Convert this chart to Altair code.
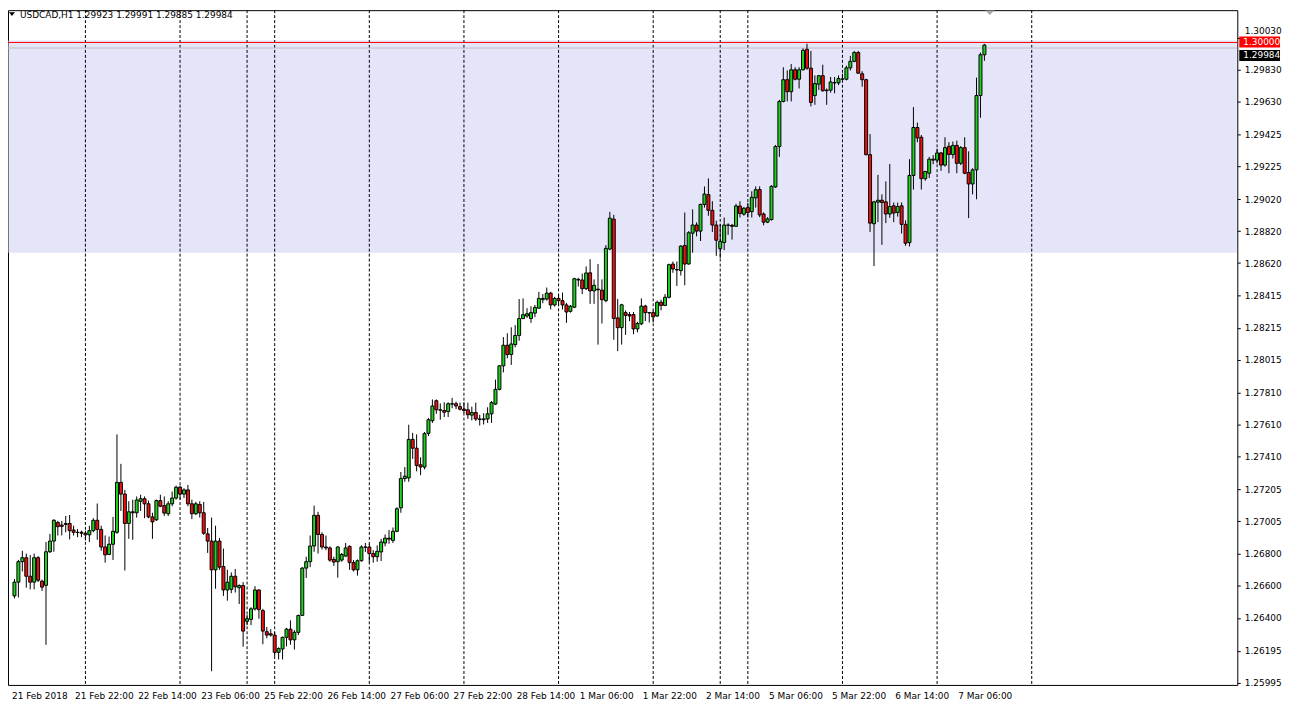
import json
import altair as alt
import pandas as pd

# ---------------- data (USDCAD, H1) ----------------
symbol = "USDCAD"
timeframe = "H1"

opens = [
    1.26538, 1.26624, 1.26752, 1.26777, 1.26661, 1.26624, 1.26777, 1.26630, 1.26604, 1.26814,
    1.26881, 1.26997, 1.26981, 1.26985, 1.26991, 1.26950, 1.26936, 1.26936, 1.26930, 1.26920,
    1.26946, 1.27011, 1.26954, 1.26844, 1.26797, 1.26861, 1.26936, 1.27248, 1.27175, 1.26991,
    1.27064, 1.27058, 1.27130, 1.27146, 1.27114, 1.27032, 1.27014, 1.27134, 1.27103, 1.27052,
    1.27114, 1.27150, 1.27218, 1.27175, 1.27201, 1.27114, 1.27052, 1.27110, 1.27058, 1.26926,
    1.26881, 1.26701, 1.26881, 1.26722, 1.26575, 1.26579, 1.26661, 1.26589, 1.26603, 1.26379,
    1.26391, 1.26457, 1.26575, 1.26446, 1.26314, 1.26301, 1.26293, 1.26185, 1.26206, 1.26279,
    1.26330, 1.26263, 1.26310, 1.26416, 1.26712, 1.26752, 1.26850, 1.27042, 1.26922, 1.26844,
    1.26838, 1.26766, 1.26752, 1.26762, 1.26787, 1.26848, 1.26746, 1.26701, 1.26758, 1.26844,
    1.26844, 1.26803, 1.26783, 1.26813, 1.26869, 1.26899, 1.26885, 1.26942, 1.27089, 1.27272,
    1.27276, 1.27517, 1.27462, 1.27358, 1.27344, 1.27555, 1.27634, 1.27759, 1.27702, 1.27698,
    1.27691, 1.27740, 1.27740, 1.27722, 1.27706, 1.27702, 1.27669, 1.27685, 1.27645, 1.27640,
    1.27645, 1.27677, 1.27738, 1.27830, 1.27977, 1.28106, 1.28048, 1.28110, 1.28167, 1.28273,
    1.28289, 1.28273, 1.28307, 1.28338, 1.28391, 1.28395, 1.28432, 1.28358, 1.28399, 1.28385,
    1.28358, 1.28318, 1.28344, 1.28514, 1.28514, 1.28460, 1.28559, 1.28446, 1.28457, 1.28451,
    1.28385, 1.28708, 1.28895, 1.28277, 1.28216, 1.28310, 1.28298, 1.28298, 1.28208, 1.28240,
    1.28351, 1.28310, 1.28310, 1.28289, 1.28375, 1.28355, 1.28406, 1.28614, 1.28579, 1.28573,
    1.28730, 1.28614, 1.28807, 1.28858, 1.28820, 1.28987, 1.29048, 1.28950, 1.28858, 1.28710,
    1.28748, 1.28858, 1.28856, 1.28850, 1.28977, 1.28926, 1.28967, 1.28942, 1.29028, 1.29080,
    1.28927, 1.28876, 1.28892, 1.29096, 1.29349, 1.29631, 1.29767, 1.29692, 1.29829, 1.29770,
    1.29829, 1.29957, 1.29839, 1.29668, 1.29739, 1.29792, 1.29702, 1.29702, 1.29747, 1.29747,
    1.29770, 1.29770, 1.29841, 1.29882, 1.29937, 1.29804, 1.29767, 1.29298, 1.28866, 1.29001,
    1.29013, 1.29003, 1.28927, 1.28978, 1.28937, 1.28978, 1.28862, 1.28748, 1.29168, 1.29468,
    1.29407, 1.29148, 1.29182, 1.29270, 1.29264, 1.29309, 1.29233, 1.29350, 1.29299, 1.29356,
    1.29244, 1.29342, 1.29186, 1.29115, 1.29203, 1.29668, 1.29923,
]
highs = [
    1.26644, 1.26763, 1.26820, 1.26803, 1.26793, 1.26803, 1.26787, 1.26640, 1.26875, 1.26926,
    1.27018, 1.27007, 1.27007, 1.27038, 1.27044, 1.26977, 1.26956, 1.26946, 1.26946, 1.26977,
    1.27024, 1.27116, 1.26977, 1.26916, 1.26909, 1.27032, 1.27548, 1.27364, 1.27201, 1.27130,
    1.27140, 1.27160, 1.27171, 1.27160, 1.27134, 1.27058, 1.27140, 1.27171, 1.27160, 1.27130,
    1.27191, 1.27228, 1.27228, 1.27211, 1.27232, 1.27140, 1.27126, 1.27130, 1.27126, 1.26963,
    1.27028, 1.26977, 1.26901, 1.26834, 1.26701, 1.26685, 1.26706, 1.26610, 1.26624, 1.26420,
    1.26467, 1.26599, 1.26579, 1.26457, 1.26344, 1.26330, 1.26314, 1.26216, 1.26283, 1.26338,
    1.26385, 1.26324, 1.26420, 1.26718, 1.26783, 1.26916, 1.27103, 1.27064, 1.26936, 1.26915,
    1.26848, 1.26783, 1.26848, 1.26807, 1.26869, 1.26854, 1.26762, 1.26766, 1.26854, 1.26869,
    1.26864, 1.26824, 1.26854, 1.26895, 1.26922, 1.26950, 1.26966, 1.27093, 1.27313, 1.27344,
    1.27609, 1.27558, 1.27548, 1.27405, 1.27563, 1.27651, 1.27767, 1.27767, 1.27742, 1.27749,
    1.27749, 1.27777, 1.27753, 1.27747, 1.27749, 1.27747, 1.27722, 1.27747, 1.27671, 1.27681,
    1.27718, 1.27757, 1.27891, 1.27983, 1.28157, 1.28181, 1.28218, 1.28232, 1.28395, 1.28399,
    1.28338, 1.28350, 1.28358, 1.28440, 1.28426, 1.28467, 1.28440, 1.28409, 1.28426, 1.28436,
    1.28371, 1.28358, 1.28528, 1.28528, 1.28554, 1.28599, 1.28644, 1.28518, 1.28614, 1.28518,
    1.28732, 1.28940, 1.28922, 1.28395, 1.28365, 1.28324, 1.28314, 1.28314, 1.28253, 1.28399,
    1.28359, 1.28314, 1.28324, 1.28385, 1.28391, 1.28426, 1.28616, 1.28630, 1.28630, 1.28732,
    1.28936, 1.28820, 1.28956, 1.28875, 1.28991, 1.29099, 1.29150, 1.29007, 1.28885, 1.28865,
    1.28905, 1.28869, 1.28865, 1.28991, 1.29007, 1.28971, 1.28997, 1.29069, 1.29099, 1.29100,
    1.28937, 1.28907, 1.29107, 1.29359, 1.29641, 1.29845, 1.29825, 1.29865, 1.29845, 1.29845,
    1.29963, 1.29992, 1.29947, 1.29794, 1.29794, 1.29861, 1.29712, 1.29784, 1.29784, 1.29794,
    1.29804, 1.29855, 1.29916, 1.29947, 1.29947, 1.29820, 1.29773, 1.29427, 1.29009, 1.29172,
    1.29050, 1.29131, 1.29240, 1.28999, 1.28999, 1.28999, 1.28887, 1.29270, 1.29596, 1.29499,
    1.29421, 1.29197, 1.29284, 1.29295, 1.29335, 1.29315, 1.29407, 1.29376, 1.29380, 1.29386,
    1.29352, 1.29407, 1.29319, 1.29213, 1.29780, 1.29937, 1.29991,
]
lows = [
    1.26522, 1.26528, 1.26691, 1.26589, 1.26579, 1.26579, 1.26624, 1.26569, 1.26232, 1.26807,
    1.26814, 1.26916, 1.26916, 1.26936, 1.26891, 1.26916, 1.26905, 1.26905, 1.26885, 1.26875,
    1.26936, 1.26889, 1.26820, 1.26746, 1.26793, 1.26763, 1.26926, 1.27069, 1.26697, 1.26895,
    1.26889, 1.27028, 1.27069, 1.27024, 1.27024, 1.26895, 1.27007, 1.27093, 1.27038, 1.27038,
    1.27099, 1.27140, 1.27140, 1.27150, 1.27099, 1.27018, 1.27044, 1.27028, 1.26920, 1.26807,
    1.26067, 1.26583, 1.26701, 1.26538, 1.26508, 1.26555, 1.26559, 1.26487, 1.26220, 1.26355,
    1.26355, 1.26446, 1.26395, 1.26236, 1.26273, 1.26283, 1.26161, 1.26140, 1.26140, 1.26222,
    1.26232, 1.26202, 1.26293, 1.26412, 1.26650, 1.26718, 1.26814, 1.26803, 1.26828, 1.26824,
    1.26752, 1.26726, 1.26652, 1.26752, 1.26783, 1.26701, 1.26691, 1.26665, 1.26752, 1.26813,
    1.26746, 1.26746, 1.26752, 1.26756, 1.26848, 1.26864, 1.26869, 1.26936, 1.27058, 1.27252,
    1.27252, 1.27395, 1.27317, 1.27293, 1.27330, 1.27538, 1.27620, 1.27677, 1.27640, 1.27657,
    1.27657, 1.27712, 1.27706, 1.27698, 1.27681, 1.27645, 1.27636, 1.27632, 1.27604, 1.27610,
    1.27620, 1.27620, 1.27732, 1.27824, 1.27936, 1.28024, 1.27983, 1.28093, 1.28134, 1.28269,
    1.28277, 1.28246, 1.28281, 1.28334, 1.28369, 1.28385, 1.28330, 1.28348, 1.28350, 1.28330,
    1.28246, 1.28310, 1.28338, 1.28473, 1.28426, 1.28452, 1.28365, 1.28365, 1.28110, 1.28242,
    1.28375, 1.28701, 1.28140, 1.28069, 1.28110, 1.28171, 1.28257, 1.28175, 1.28187, 1.28232,
    1.28257, 1.28248, 1.28248, 1.28283, 1.28324, 1.28351, 1.28399, 1.28559, 1.28477, 1.28542,
    1.28481, 1.28610, 1.28685, 1.28787, 1.28758, 1.28967, 1.28916, 1.28814, 1.28665, 1.28650,
    1.28701, 1.28797, 1.28767, 1.28848, 1.28905, 1.28916, 1.28905, 1.28905, 1.28967, 1.28907,
    1.28856, 1.28870, 1.28886, 1.29090, 1.29284, 1.29625, 1.29631, 1.29631, 1.29763, 1.29712,
    1.29825, 1.29829, 1.29600, 1.29610, 1.29702, 1.29692, 1.29610, 1.29686, 1.29682, 1.29733,
    1.29763, 1.29763, 1.29825, 1.29876, 1.29804, 1.29723, 1.29294, 1.28815, 1.28601, 1.28876,
    1.28734, 1.28870, 1.28903, 1.28876, 1.28911, 1.28805, 1.28728, 1.28724, 1.29080, 1.29376,
    1.29080, 1.29135, 1.29152, 1.29238, 1.29244, 1.29197, 1.29223, 1.29182, 1.29274, 1.29182,
    1.29233, 1.29176, 1.28901, 1.29050, 1.29019, 1.29529, 1.29885,
]
closes = [
    1.26624, 1.26752, 1.26777, 1.26661, 1.26624, 1.26777, 1.26636, 1.26593, 1.26814, 1.26881,
    1.27011, 1.26971, 1.26973, 1.26991, 1.26946, 1.26936, 1.26934, 1.26930, 1.26920, 1.26946,
    1.27011, 1.26954, 1.26844, 1.26795, 1.26861, 1.26942, 1.27248, 1.27175, 1.26991, 1.27064,
    1.27058, 1.27138, 1.27146, 1.27114, 1.27032, 1.27001, 1.27134, 1.27099, 1.27056, 1.27114,
    1.27150, 1.27218, 1.27175, 1.27201, 1.27114, 1.27052, 1.27114, 1.27058, 1.26930, 1.26881,
    1.26701, 1.26881, 1.26718, 1.26575, 1.26624, 1.26661, 1.26595, 1.26603, 1.26318, 1.26395,
    1.26457, 1.26575, 1.26452, 1.26318, 1.26293, 1.26293, 1.26185, 1.26208, 1.26279, 1.26330,
    1.26263, 1.26310, 1.26416, 1.26712, 1.26752, 1.26850, 1.27042, 1.26922, 1.26844, 1.26838,
    1.26762, 1.26750, 1.26844, 1.26797, 1.26838, 1.26746, 1.26701, 1.26758, 1.26844, 1.26842,
    1.26803, 1.26783, 1.26817, 1.26875, 1.26899, 1.26893, 1.26942, 1.27083, 1.27272, 1.27287,
    1.27517, 1.27462, 1.27354, 1.27344, 1.27553, 1.27640, 1.27726, 1.27702, 1.27700, 1.27687,
    1.27740, 1.27738, 1.27726, 1.27706, 1.27698, 1.27671, 1.27685, 1.27645, 1.27642, 1.27645,
    1.27677, 1.27747, 1.27830, 1.27977, 1.28106, 1.28048, 1.28114, 1.28167, 1.28273, 1.28297,
    1.28303, 1.28310, 1.28342, 1.28399, 1.28399, 1.28432, 1.28358, 1.28399, 1.28385, 1.28358,
    1.28314, 1.28350, 1.28522, 1.28518, 1.28460, 1.28558, 1.28446, 1.28481, 1.28453, 1.28391,
    1.28712, 1.28901, 1.28273, 1.28216, 1.28359, 1.28293, 1.28289, 1.28208, 1.28242, 1.28351,
    1.28310, 1.28308, 1.28283, 1.28375, 1.28355, 1.28406, 1.28610, 1.28583, 1.28577, 1.28726,
    1.28614, 1.28810, 1.28858, 1.28820, 1.28987, 1.29052, 1.28950, 1.28858, 1.28763, 1.28756,
    1.28858, 1.28856, 1.28850, 1.28977, 1.28930, 1.28963, 1.28936, 1.29032, 1.29079, 1.28921,
    1.28876, 1.28896, 1.29100, 1.29349, 1.29631, 1.29767, 1.29692, 1.29829, 1.29770, 1.29829,
    1.29951, 1.29839, 1.29625, 1.29743, 1.29792, 1.29698, 1.29698, 1.29753, 1.29749, 1.29774,
    1.29772, 1.29841, 1.29882, 1.29937, 1.29808, 1.29767, 1.29298, 1.28870, 1.29003, 1.29013,
    1.28999, 1.28927, 1.28974, 1.28933, 1.28974, 1.28862, 1.28744, 1.29168, 1.29468, 1.29403,
    1.29148, 1.29193, 1.29270, 1.29264, 1.29309, 1.29233, 1.29342, 1.29299, 1.29356, 1.29244,
    1.29342, 1.29182, 1.29115, 1.29203, 1.29668, 1.29923, 1.29984,
]

# time axis (bar index of each label, MT4 style text)
x_tick_idx = [0, 16, 32, 48, 64, 80, 96, 112, 128, 144, 160, 176, 192, 208, 224, 240]
x_tick_labels = ["21 Feb 2018", "21 Feb 22:00", "22 Feb 14:00", "23 Feb 06:00",
                 "25 Feb 22:00", "26 Feb 14:00", "27 Feb 06:00", "27 Feb 22:00",
                 "28 Feb 14:00", "1 Mar 06:00", "1 Mar 22:00", "2 Mar 14:00",
                 "5 Mar 06:00", "5 Mar 22:00", "6 Mar 14:00", "7 Mar 06:00"]
# bar index where each new trading day starts (period separators)
day_start_idx = [18, 42, 59, 66, 90, 114, 138, 162, 179, 186, 210, 234, 258]

# price axis
y_ticks = [1.30030, 1.29830, 1.29630, 1.29425, 1.29225, 1.29020, 1.28820, 1.28620,
           1.28415, 1.28215, 1.28015, 1.27810, 1.27610, 1.27410, 1.27205, 1.27005,
           1.26800, 1.26600, 1.26400, 1.26195, 1.25995]
y_min, y_max = 1.25981, 1.30202

zone_top, zone_bottom = 1.30012, 1.28685   # shaded resistance zone
level_price = 1.30000                       # horizontal line
bid_price = closes[-1]

# ---------------- chart ----------------
W, H = 1237, 679
FONT = "DejaVu Sans"
GREEN, RED = "#1ED21E", "#F01010"

n = len(opens)
df = pd.DataFrame({"i": list(range(n)), "o": opens, "h": highs, "l": lows, "c": closes})
df["dir"] = ["up" if c >= o else "down" for o, c in zip(opens, closes)]

xscale = alt.Scale(domain=[-0.375, -0.375 + W / 4], nice=False, zero=False)
yscale = alt.Scale(domain=[y_min, y_max], nice=False, zero=False)

label_expr = json.dumps(x_tick_labels) + "[round(datum.value / 16)]"
xaxis = alt.Axis(values=x_tick_idx, labelExpr=label_expr, labelAlign="left",
                 labelBaseline="top", labelOffset=-3, labelPadding=7, ticks=False,
                 domain=False, grid=False, title=None, labelFont=FONT, labelFontSize=9,
                 labelColor="black", labelOverlap=False, labelFlush=False)
# the top price label peeks out just above the red level tag
yaxis = alt.Axis(orient="right", values=y_ticks, format=".5f", tickSize=3,
                 tickColor="black", domain=False, grid=False, title=None,
                 labelFont=FONT, labelFontSize=9, labelColor="black", labelPadding=4,
                 labelOffset={"condition": {"test": f"datum.value > {level_price}", "value": -7},
                              "value": 0},
                 labelOverlap=False, labelFlush=False)


def X(field):
    return alt.X(field, type="quantitative", scale=xscale, axis=xaxis)


def Y(field):
    return alt.Y(field, type="quantitative", scale=yscale, axis=yaxis)


one = pd.DataFrame({"k": [0]})
zone_df = pd.DataFrame({"top": [zone_top], "bottom": [zone_bottom]})
sep_df = pd.DataFrame({"i": day_start_idx})
level_df = pd.DataFrame({"p": [level_price], "label": [f"{level_price:.5f}"]})
bid_df = pd.DataFrame({"p": [bid_price], "label": [f"{bid_price:.5f}"]})

zone = alt.Chart(zone_df).mark_rect(color="#E4E5F9").encode(
    x=alt.value(0.5), x2=alt.value(W - 0.5), y=Y("top"), y2="bottom:Q")

seps = alt.Chart(sep_df).mark_rule(color="black", strokeWidth=1, strokeDash=[3, 2]).encode(
    x=X("i"))

bid_line = alt.Chart(bid_df).mark_rule(color="#C0C0C0", strokeWidth=1, yOffset=3).encode(y=Y("p"))
level_line = alt.Chart(level_df).mark_rule(color="#FF0000", strokeWidth=1).encode(y=Y("p"))

wicks = alt.Chart(df).mark_rule(color="black", strokeWidth=1).encode(
    x=X("i"), y=Y("l"), y2="h:Q")
bodies = alt.Chart(df).mark_bar(size=3, stroke="black", strokeWidth=1, orient="vertical").encode(
    x=X("i"), y=Y("o"), y2="c:Q",
    color=alt.Color("dir:N", scale=alt.Scale(domain=["up", "down"], range=[GREEN, RED]),
                    legend=None))

# bid price tag sits just under the red level tag
bid_tag = alt.Chart(bid_df).mark_rect(color="black", yOffset=5, y2Offset=16).encode(
    x=alt.value(W + 2), x2=alt.value(W + 43), y=Y("p"), y2="p:Q")
bid_text = alt.Chart(bid_df).mark_text(align="left", baseline="middle", color="white",
                                       font=FONT, fontSize=9, dy=10.5).encode(
    x=alt.value(W + 6), y=Y("p"), text="label:N")
level_tag = alt.Chart(level_df).mark_rect(color="#FF0000", yOffset=-6, y2Offset=5).encode(
    x=alt.value(W + 2), x2=alt.value(W + 43), y=Y("p"), y2="p:Q")
level_text = alt.Chart(level_df).mark_text(align="left", baseline="middle", color="white",
                                           font=FONT, fontSize=9, dy=-0.5).encode(
    x=alt.value(W + 6), y=Y("p"), text="label:N")

header = f"{symbol},{timeframe}  {opens[-1]:.5f} {highs[-1]:.5f} {lows[-1]:.5f} {closes[-1]:.5f}"
header_tri = alt.Chart(one).mark_point(shape="M-1,-0.6L1,-0.6L0,0.6Z", filled=True,
                                       color="black", size=36, opacity=1).encode(
    x=alt.value(4), y=alt.value(4))
header_text = alt.Chart(one).mark_text(align="left", baseline="middle", color="black",
                                       font=FONT, fontSize=9).encode(
    x=alt.value(12), y=alt.value(5), text=alt.value(header))
shift_marker = alt.Chart(one).mark_point(shape="M-1,-0.5L1,-0.5L0,0.5Z", filled=True,
                                         color="#A8A8A8", size=81, opacity=1).encode(
    x=alt.value(988), y=alt.value(2.5))

chart = alt.layer(
    zone, seps, bid_line, level_line, wicks, bodies,
    bid_tag, bid_text, level_tag, level_text,
    header_tri, header_text, shift_marker,
).properties(
    width=W, height=H,
    padding={"left": 0, "top": 0, "right": 46, "bottom": 18},
    autosize=alt.AutoSizeParams(type="none"),
    background="white",
).configure_view(stroke="black", strokeWidth=1)

chart.save("out.html", embed_options={"renderer": "svg", "actions": False})
